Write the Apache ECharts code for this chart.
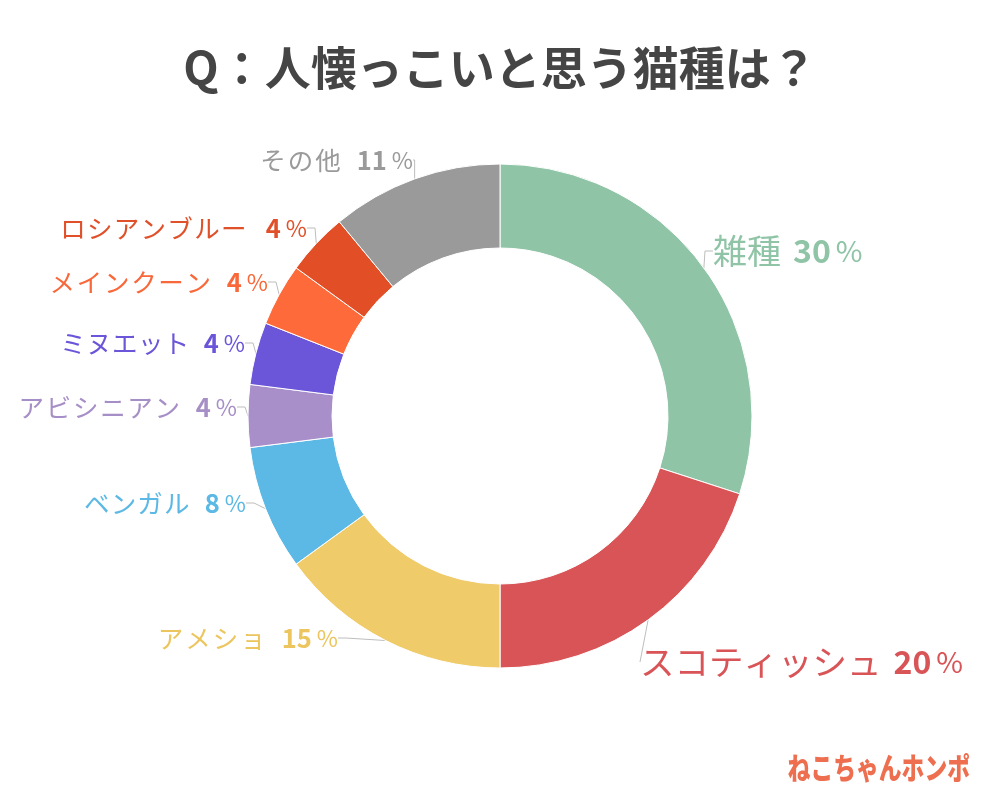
<!DOCTYPE html>
<html>
<head>
<meta charset="utf-8">
<script src="https://cdn.jsdelivr.net/npm/echarts@6/dist/echarts.min.js"></script>
<style>
html,body{margin:0;padding:0;background:#fff;}
#chart{width:1000px;height:800px;}
</style>
</head>
<body>
<div id="chart"></div>
<script>
const titleText = 'Q：人懐っこいと思う猫種は？';
const categories = ['雑種', 'スコティッシュ', 'アメショ', 'ベンガル', 'アビシニアン', 'ミヌエット', 'メインクーン', 'ロシアンブルー', 'その他'];
const values = [30, 20, 15, 8, 4, 4, 4, 4, 11];
const colors = ['#8fc4a6', '#d95457', '#efcb6a', '#5cb8e4', '#a98fc9', '#6b55d8', '#fe6a3a', '#e24e25', '#9a9a9a'];
const textColors = ['#8fc4a6', '#d95457', '#ecc55e', '#5cb8e4', '#a68fc6', '#6b55d8', '#f8683a', '#e0512a', '#9a9a9a'];
const nameSizes = [34, 34.5, 25.5, 25.5, 25.5, 25.5, 25.5, 25.5, 25.5];
const numSizes = [32, 32, 25.5, 25.5, 25.5, 25.5, 25.5, 25.5, 25.5];
const nameGaps = [12, 12, 14, 14, 14, 14, 14, 18, 14];
const letterSpacing = [0, 0, 2, 1.2, 1.7, 0.4, 1.7, 1.3, 2];
// label anchor layout (x, y, align)
const labelSpots = [
  [713, 251, 'left'], [640, 662, 'left'], [338, 638, 'right'], [246, 503, 'right'],
  [237, 407, 'right'], [245, 343, 'right'], [268, 282, 'right'], [307, 228, 'right'], [413, 160, 'right']
];

const FONT = '"Noto Sans CJK JP", "Noto Sans", sans-serif';
const chart = echarts.init(document.getElementById('chart'));

const data = categories.map((name, i) => ({
  name: name,
  value: values[i],
  itemStyle: { color: colors[i] },
  label: {
    color: textColors[i],
    rich: {
      n: { fontSize: nameSizes[i], color: textColors[i], fontFamily: FONT, fontWeight: 'normal', padding: [0, letterSpacing[i], 0, 0] },
      v: { fontSize: numSizes[i], color: textColors[i], fontFamily: FONT, fontWeight: 'bold', padding: [0, 0, 0, nameGaps[i]] },
      p: { fontSize: Math.round(numSizes[i] * 0.92), color: textColors[i], fontFamily: FONT, fontWeight: 'normal', padding: [0, 0, 0, 5] }
    }
  }
}));

chart.setOption({
  animation: false,
  title: {
    text: titleText,
    left: 'center',
    top: 40,
    textStyle: { fontFamily: FONT, fontSize: 46, fontWeight: 'bold', color: '#454545' }
  },
  graphic: [{
    type: 'text',
    right: 30,
    top: 753,
    scaleX: 0.76,
    style: { text: 'ねこちゃんホンポ', font: '900 30px "Noto Sans CJK JP"', fill: '#ee6f4f' }
  }],
  series: [{
    type: 'pie',
    center: [500, 416],
    radius: [168, 252],
    startAngle: 90,
    clockwise: true,
    avoidLabelOverlap: false,
    itemStyle: { borderColor: '#ffffff', borderWidth: 1 },
    label: {
      show: true,
      position: 'outside',
      formatter: p => Array.from(p.name).map(c => '{n|' + c + '}').join('') + '{v|' + p.value + '}{p|%}'
    },
    labelLine: { show: true, length: 10, length2: 8, lineStyle: { color: '#bdbdbd', width: 1 } },
    labelLayout: function (params) {
      const s = labelSpots[params.dataIndex];
      return { x: s[0], y: s[1], align: s[2], verticalAlign: 'middle' };
    },
    data: data
  }]
});
</script>
</body>
</html>
